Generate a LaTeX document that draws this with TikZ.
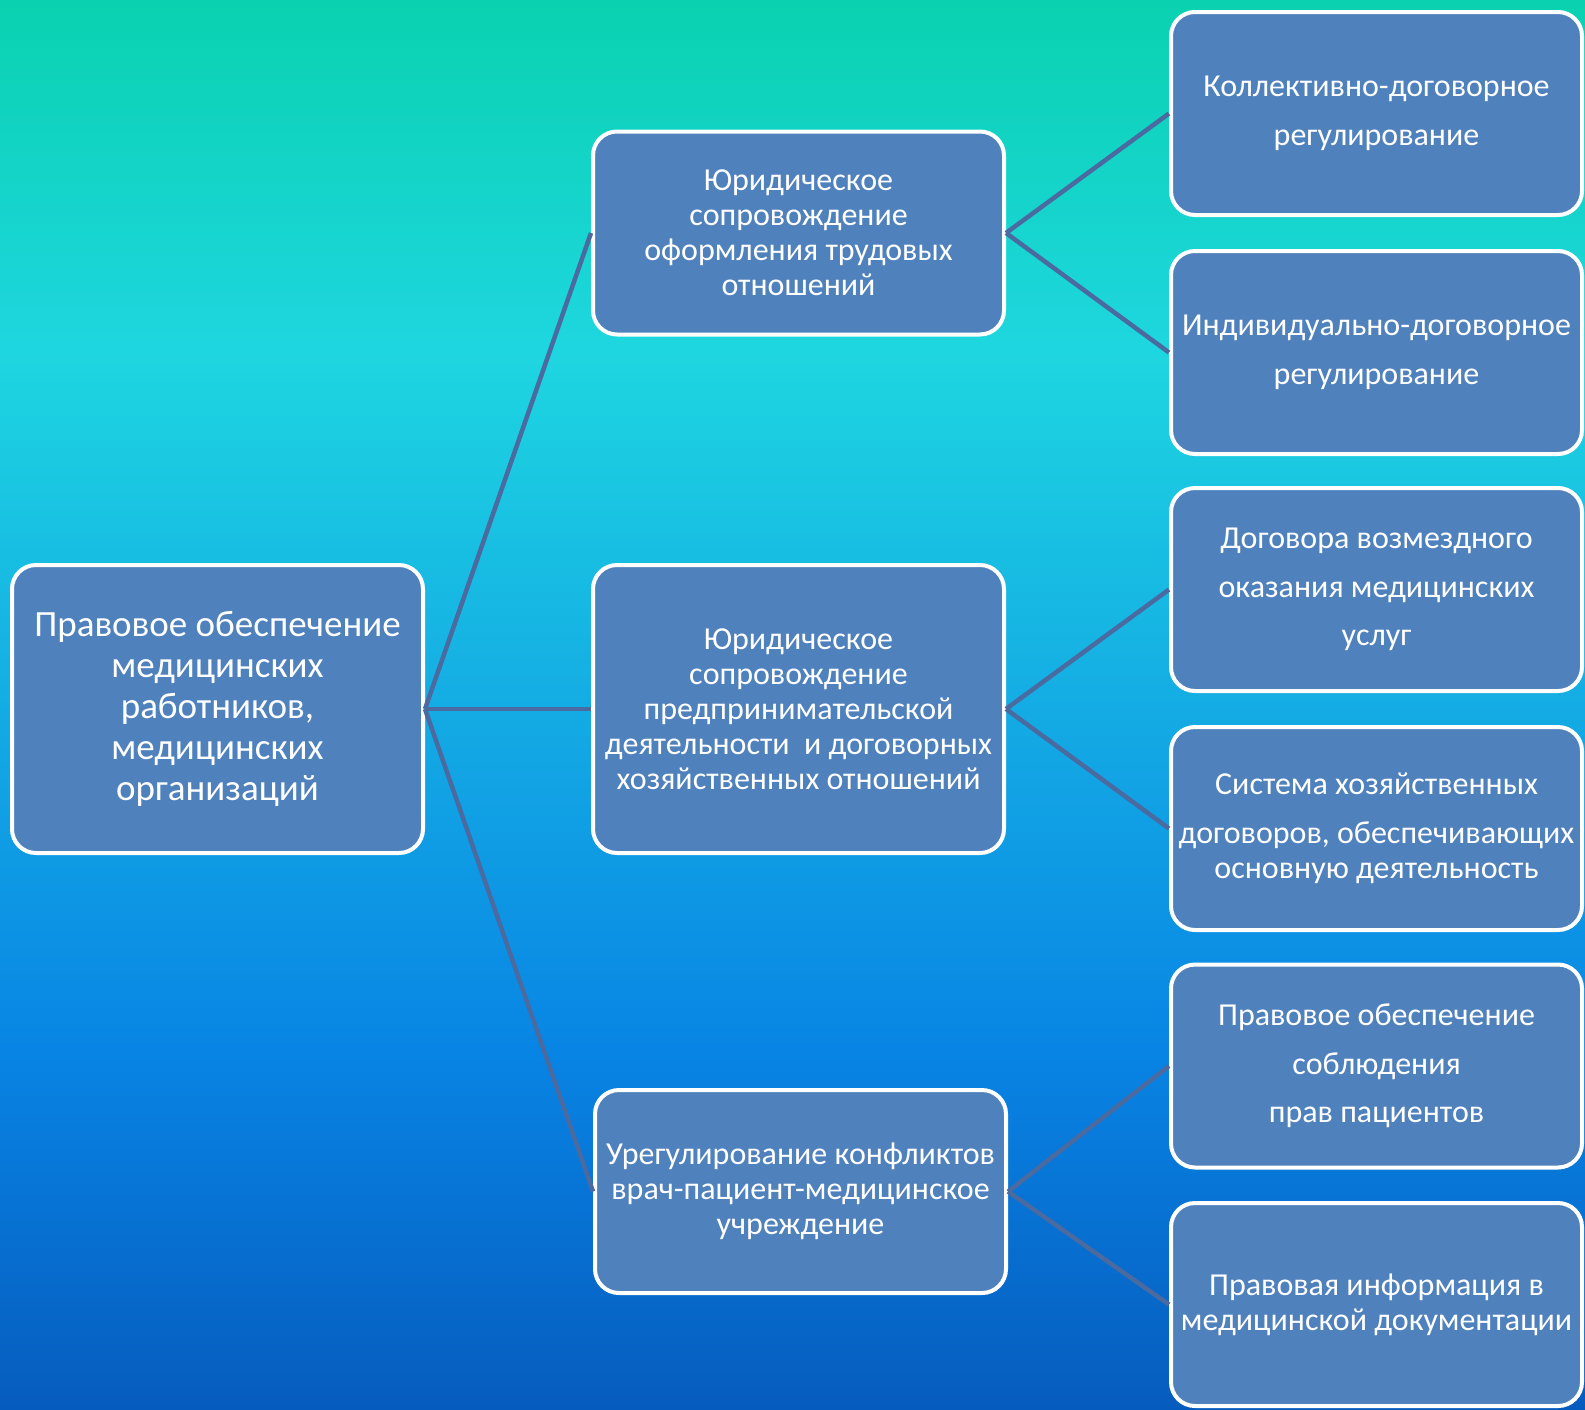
\documentclass[tikz,border=0pt]{standalone}
\usepackage{fontspec}
\setmainfont{Carlito}
\definecolor{bgA}{RGB}{10,210,176}
\definecolor{bgB}{RGB}{30,214,224}
\definecolor{bgC}{RGB}{20,172,228}
\definecolor{bgD}{RGB}{8,132,228}
\definecolor{bgE}{RGB}{6,92,190}
\definecolor{boxblue}{RGB}{79,129,189}
\definecolor{linkcol}{RGB}{74,106,160}
\pgfdeclareverticalshading{bgshade}{100bp}{color(0bp)=(bgE); color(25bp)=(bgE); color(37.5bp)=(bgD); color(50bp)=(bgC); color(62.5bp)=(bgB); color(75bp)=(bgA); color(100bp)=(bgA)}
\tikzset{
  box/.style={draw=white, line width=4pt, fill=boxblue, rounded corners=24pt,
    text=white, align=center, inner sep=0pt, minimum width=411pt},
  rootfont/.style={font=\fontsize{37}{41}\selectfont},
  midfont/.style={font=\fontsize{32}{35}\selectfont},
  rightfont/.style={font=\fontsize{32}{48.5}\selectfont},
  tightfont/.style={font=\fontsize{32}{35}\selectfont},
  tall/.style={minimum height=288pt},
  short/.style={minimum height=203pt},
  link/.style={draw=linkcol, line width=4.5pt}
}
\begin{document}
\begin{tikzpicture}[x=1pt,y=-1pt]
\useasboundingbox (0,0) rectangle (1585,1409);
\shade[shading=bgshade] (0,0) rectangle (1585,1409);

\node[box, tall, rootfont] (root) at (217.5,709) {Правовое обеспечение\\медицинских\\работников,\\медицинских\\организаций};

\node[box, short, midfont] (m1) at (798.5,233) {Юридическое\\сопровождение\\оформления трудовых\\отношений};
\node[box, tall, midfont] (m2) at (798.5,709) {Юридическое\\сопровождение\\предпринимательской\\деятельности~ и договорных\\хозяйственных отношений};
\node[box, short, midfont] (m3) at (800.5,1191.5) {Урегулирование конфликтов\\врач-пациент-медицинское\\учреждение};

\node[box, short, rightfont] (r1) at (1376.5,113.5) {Коллективно-договорное\\регулирование};
\node[box, short, rightfont] (r2) at (1376.5,352.5) {Индивидуально-договорное\\регулирование};
\node[box, short, rightfont] (r3) at (1376.5,589.5) {Договора возмездного\\оказания медицинских\\услуг};
\node[box, short, tightfont] (r4) at (1376.5,828.5) {Система хозяйственных\\[14pt]договоров, обеспечивающих\\основную деятельность};
\node[box, short, rightfont] (r5) at (1376.5,1066) {Правовое обеспечение\\соблюдения\\прав пациентов};
\node[box, short, tightfont] (r6) at (1376.5,1304.5) {Правовая информация в\\медицинской документации};

\draw[link] (root.east) -- (m1.west);
\draw[link] (root.east) -- (m2.west);
\draw[link] (root.east) -- (m3.west);
\draw[link] (m1.east) -- (r1.west);
\draw[link] (m1.east) -- (r2.west);
\draw[link] (m2.east) -- (r3.west);
\draw[link] (m2.east) -- (r4.west);
\draw[link] (m3.east) -- (r5.west);
\draw[link] (m3.east) -- (r6.west);
\end{tikzpicture}
\end{document}
